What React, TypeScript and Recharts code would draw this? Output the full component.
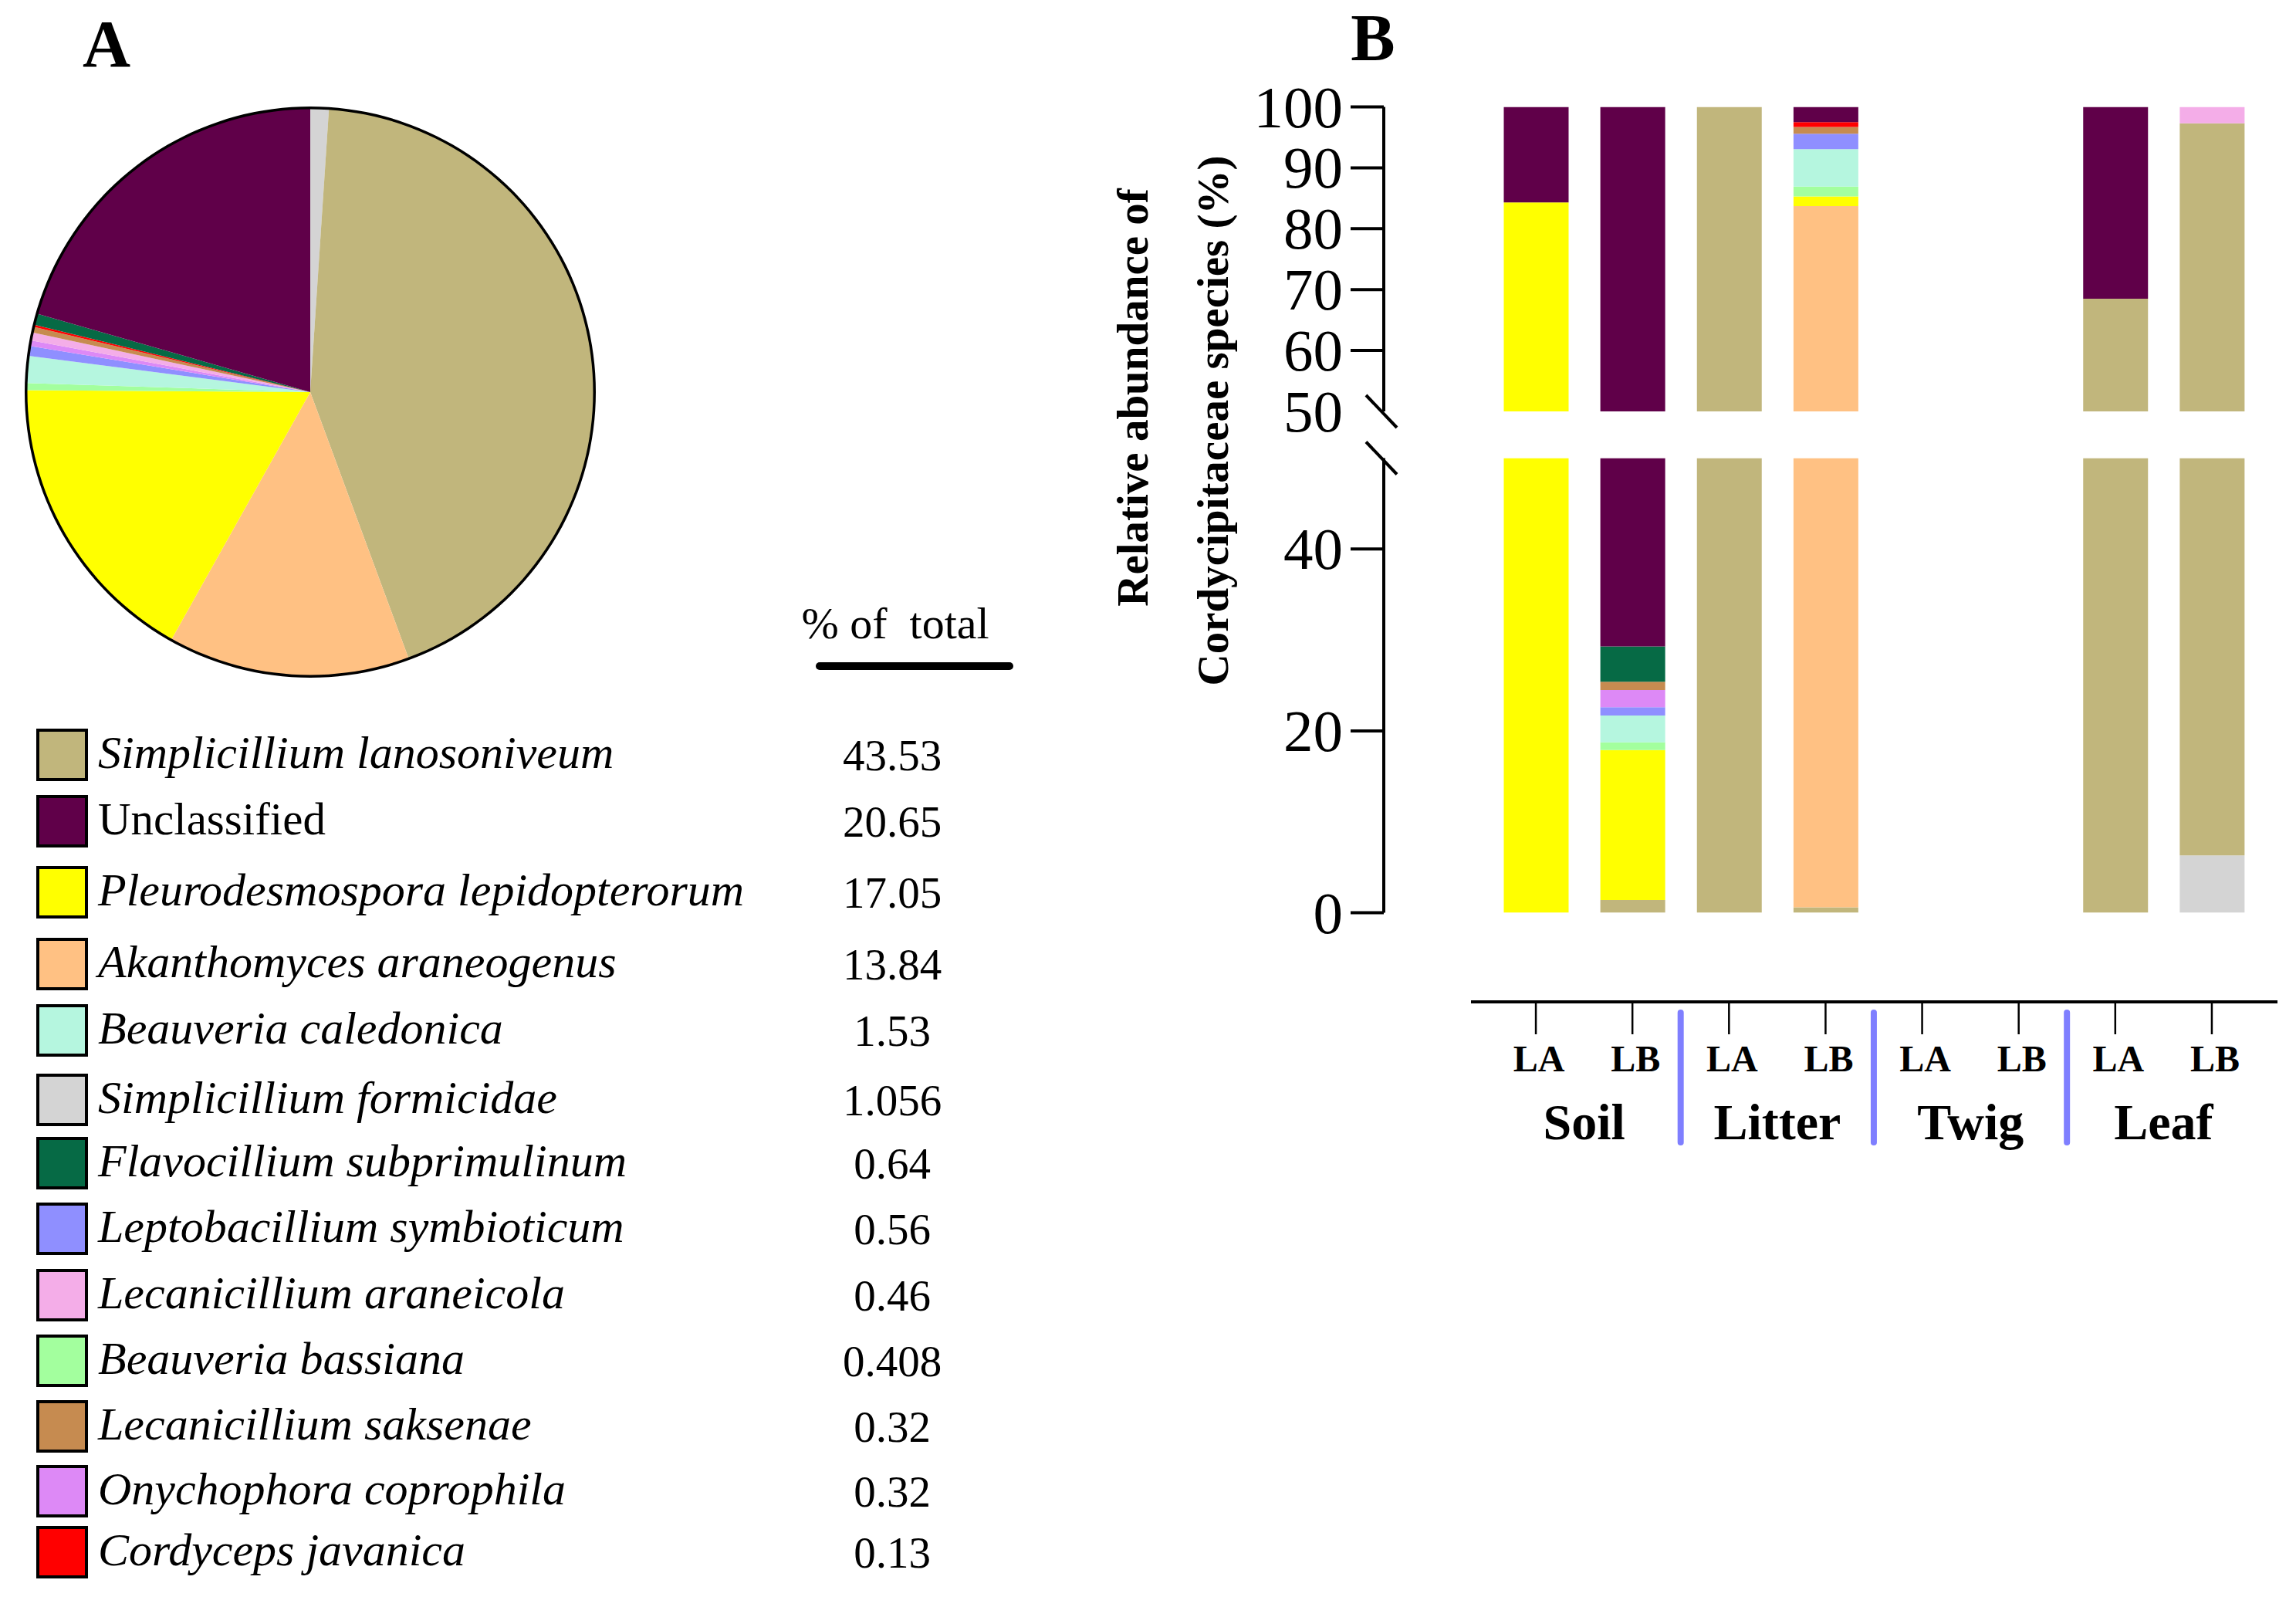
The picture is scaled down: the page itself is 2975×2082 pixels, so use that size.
import { PieChart, Pie, Cell, BarChart, Bar, XAxis, YAxis } from 'recharts';

const SERIF = '"Liberation Serif", "Times New Roman", serif';

// species, in legend order
const SPECIES = [
  'Simplicillium lanosoniveum',
  'Unclassified',
  'Pleurodesmospora lepidopterorum',
  'Akanthomyces araneogenus',
  'Beauveria caledonica',
  'Simplicillium formicidae',
  'Flavocillium subprimulinum',
  'Leptobacillium symbioticum',
  'Lecanicillium araneicola',
  'Beauveria bassiana',
  'Lecanicillium saksenae',
  'Onychophora coprophila',
  'Cordyceps javanica',
];

const PERCENT_OF_TOTAL = [43.53, 20.65, 17.05, 13.84, 1.53, 1.056, 0.64, 0.56, 0.46, 0.408, 0.32, 0.32, 0.13];

const SPECIES_COLORS = [
  '#C1B67C', // tan
  '#600049', // plum
  '#FFFF00', // yellow
  '#FFC183', // peach
  '#B5F6DF', // mint
  '#D4D4D4', // grey
  '#066A45', // dark green
  '#8F8FFF', // periwinkle
  '#F4ADE8', // pink
  '#A3FF9E', // light green
  '#C68B50', // brown
  '#DD89F6', // violet
  '#FF0000', // red
];

// slice order (clockwise from 12 o'clock) and stacking order (bottom up)
const STACK_ORDER = [5, 0, 3, 2, 9, 4, 7, 11, 8, 10, 12, 6, 1];

const SAMPLES = ['LA', 'LB', 'LA', 'LB', 'LA', 'LB', 'LA', 'LB'];
const HABITATS = ['Soil', 'Litter', 'Twig', 'Leaf'];

// relative abundance (%): Soil LA, Soil LB, Litter LA, Litter LB, Twig LA, Twig LB, Leaf LA, Leaf LB
const S_LANOSONIVEUM = [0, 1.4, 100, 0.6, 0, 0, 68.5, 91.0];
const UNCLASSIFIED = [15.7, 70.7, 0, 2.5, 0, 0, 31.5, 0];
const P_LEPIDOPTERORUM = [84.3, 16.5, 0, 1.6, 0, 0, 0, 0];
const A_ARANEOGENUS = [0, 0, 0, 83.1, 0, 0, 0, 0];
const B_CALEDONICA = [0, 2.95, 0, 6.15, 0, 0, 0, 0];
const S_FORMICIDAE = [0, 0, 0, 0, 0, 0, 0, 6.3];
const F_SUBPRIMULINUM = [0, 3.9, 0, 0, 0, 0, 0, 0];
const L_SYMBIOTICUM = [0, 0.9, 0, 2.55, 0, 0, 0, 0];
const L_ARANEICOLA = [0, 0, 0, 0, 0, 0, 0, 2.7];
const B_BASSIANA = [0, 0.85, 0, 1.6, 0, 0, 0, 0];
const L_SAKSENAE = [0, 0.9, 0, 1.1, 0, 0, 0, 0];
const O_COPROPHILA = [0, 1.9, 0, 0, 0, 0, 0, 0];
const C_JAVANICA = [0, 0, 0, 0.8, 0, 0, 0, 0];

const ABUNDANCE = [
  S_LANOSONIVEUM,
  UNCLASSIFIED,
  P_LEPIDOPTERORUM,
  A_ARANEOGENUS,
  B_CALEDONICA,
  S_FORMICIDAE,
  F_SUBPRIMULINUM,
  L_SYMBIOTICUM,
  L_ARANEICOLA,
  B_BASSIANA,
  L_SAKSENAE,
  O_COPROPHILA,
  C_JAVANICA,
];

const UPPER_TICKS = [50, 60, 70, 80, 90, 100];
const LOWER_TICKS = [0, 20, 40, 50];

// layout only
const LEGEND_ROW_Y = [978, 1064, 1156, 1249, 1335, 1425, 1507, 1592, 1678, 1763, 1848, 1932, 2011];
const TICK_SIZE = 43;
const TICK_MARGIN = 10;
const HALF_SLOT = 62.5;

const pieData = STACK_ORDER.map((k) => ({
  name: SPECIES[k],
  value: PERCENT_OF_TOTAL[k],
  color: SPECIES_COLORS[k],
}));

const barData = SAMPLES.map((sample, i) => {
  const row: Record<string, string | number> = {
    id: `${HABITATS[Math.floor(i / 2)]} ${sample}`,
  };
  ABUNDANCE.forEach((vals, k) => {
    row[`sp${k}`] = vals[i];
  });
  return row;
});

function YTick(props: any) {
  const { x, y, payload, part } = props;
  const axisX = x + TICK_MARGIN + TICK_SIZE;
  const isBreak = payload.value === 50;
  const slash = (
    <line x1={axisX - 23} y1={y - 21} x2={axisX + 17} y2={y + 21} stroke="#000" strokeWidth={4} />
  );
  if (isBreak && part === 'lower') return <g>{slash}</g>;
  return (
    <g>
      {!isBreak && (
        <line x1={axisX - TICK_SIZE} y1={y} x2={axisX} y2={y} stroke="#000" strokeWidth={4} />
      )}
      {isBreak && slash}
      <text
        x={x}
        y={y}
        textAnchor="end"
        dominantBaseline="central"
        fontFamily={SERIF}
        fontSize={77}
        fill="#000"
      >
        {payload.value}
      </text>
    </g>
  );
}

function XTick(props: any) {
  const { x, index } = props;
  const odd = index % 2 === 1;
  return (
    <g>
      <text x={x + 4} y={188} textAnchor="middle" fontFamily={SERIF} fontWeight="bold" fontSize={48} fill="#000">
        {SAMPLES[index]}
      </text>
      {odd && (
        <text x={x - HALF_SLOT} y={276} textAnchor="middle" fontFamily={SERIF} fontWeight="bold" fontSize={66} fill="#000">
          {HABITATS[(index - 1) / 2]}
        </text>
      )}
      {odd && index < SAMPLES.length - 1 && (
        <line
          x1={x + HALF_SLOT}
          x2={x + HALF_SLOT}
          y1={112}
          y2={280}
          stroke="#7F7FFF"
          strokeWidth={8}
          strokeLinecap="round"
        />
      )}
    </g>
  );
}

function StackBars() {
  return (
    <>
      {STACK_ORDER.map((k) => (
        <Bar key={k} dataKey={`sp${k}`} stackId="a" fill={SPECIES_COLORS[k]} isAnimationActive={false} />
      ))}
    </>
  );
}

export default function App() {
  return (
    <div style={{ position: 'absolute', left: 0, top: 0, width: 2975, height: 2082, background: '#fff' }}>
      {/* A: pie */}
      <div style={{ position: 'absolute', left: 0, top: 0 }}>
        <PieChart width={804} height={1016} margin={{ top: 0, right: 0, bottom: 0, left: 0 }}>
          <Pie
            data={pieData}
            dataKey="value"
            cx={402}
            cy={508}
            outerRadius={368}
            startAngle={90}
            endAngle={-270}
            stroke="none"
            isAnimationActive={false}
          >
            {pieData.map((d, i) => (
              <Cell key={i} fill={d.color} />
            ))}
          </Pie>
          <Pie
            data={[{ value: 1 }]}
            dataKey="value"
            cx={402}
            cy={508}
            innerRadius={366.5}
            outerRadius={370}
            startAngle={90}
            endAngle={-270}
            fill="#000"
            stroke="none"
            isAnimationActive={false}
          />
        </PieChart>
      </div>

      {/* B: upper segment 50-100 */}
      <div style={{ position: 'absolute', left: 1600, top: 40 }}>
        <BarChart
          width={1351}
          height={563}
          data={barData}
          barSize={84}
          margin={{ top: 98.5, right: 0, bottom: 70, left: 0 }}
        >
          <XAxis dataKey="id" hide padding={{ left: 134.5, right: 22.5 }} />
          <YAxis
            width={193}
            domain={[50, 100]}
            ticks={UPPER_TICKS}
            allowDataOverflow
            axisLine={{ stroke: '#000', strokeWidth: 4 }}
            tickLine={false}
            tickSize={TICK_SIZE}
            tickMargin={TICK_MARGIN}
            interval={0}
            tick={(p: any) => <YTick {...p} part="upper" />}
          />
          {StackBars()}
        </BarChart>
      </div>

      {/* B: lower segment 0-50 */}
      <div style={{ position: 'absolute', left: 1600, top: 553 }}>
        <BarChart
          width={1351}
          height={699.6}
          data={barData}
          barSize={84}
          margin={{ top: 40.5, right: 0, bottom: 70, left: 0 }}
        >
          <XAxis dataKey="id" hide padding={{ left: 134.5, right: 22.5 }} />
          <YAxis
            width={193}
            domain={[0, 50]}
            ticks={LOWER_TICKS}
            allowDataOverflow
            axisLine={{ stroke: '#000', strokeWidth: 4 }}
            tickLine={false}
            tickSize={TICK_SIZE}
            tickMargin={TICK_MARGIN}
            interval={0}
            tick={(p: any) => <YTick {...p} part="lower" />}
          />
          {StackBars()}
        </BarChart>
      </div>

      {/* B: sample / habitat axis */}
      <div style={{ position: 'absolute', left: 1906, top: 1200 }}>
        <BarChart width={1045} height={320} data={barData} margin={{ top: 0, right: 0, bottom: 0, left: 0 }}>
          <XAxis
            dataKey="id"
            height={222}
            padding={{ left: 21.5, right: 22.5 }}
            axisLine={{ stroke: '#000', strokeWidth: 4 }}
            tickLine={{ stroke: '#000', strokeWidth: 2.5 }}
            tickSize={42}
            interval={0}
            tick={(p: any) => <XTick {...p} />}
          />
          <YAxis hide domain={[0, 100]} />
        </BarChart>
      </div>

      {/* texts and legend */}
      <svg
        width={2975}
        height={2082}
        style={{ position: 'absolute', left: 0, top: 0, pointerEvents: 'none' }}
        fontFamily={SERIF}
      >
        <text x={138} y={86} textAnchor="middle" fontSize={86} fontWeight="bold">
          A
        </text>
        <text x={1779} y={78} textAnchor="middle" fontSize={86} fontWeight="bold">
          B
        </text>

        <text
          transform="translate(1467,515) rotate(-90)"
          textAnchor="middle"
          dominantBaseline="central"
          fontSize={57}
          fontWeight="bold"
        >
          Relative abundance of
        </text>
        <text
          transform="translate(1571,545) rotate(-90)"
          textAnchor="middle"
          dominantBaseline="central"
          fontSize={57}
          fontWeight="bold"
        >
          Cordycipitaceae species (%)
        </text>

        <text x={1160} y={827} textAnchor="middle" fontSize={58} style={{ whiteSpace: 'pre' }}>
          {'% of  total'}
        </text>
        <line x1={1062} y1={863} x2={1308} y2={863} stroke="#000" strokeWidth={10} strokeLinecap="round" />

        {SPECIES.map((name, i) => {
          const cy = LEGEND_ROW_Y[i];
          const italic = name !== 'Unclassified';
          return (
            <g key={name}>
              <rect x={49} y={cy - 32} width={63} height={64} fill={SPECIES_COLORS[i]} stroke="#000" strokeWidth={4} />
              <text x={127} y={cy + 17} fontSize={italic ? 60 : 59} fontStyle={italic ? 'italic' : 'normal'}>
                {name}
              </text>
              <text x={1156} y={cy + 20} fontSize={57} textAnchor="middle">
                {String(PERCENT_OF_TOTAL[i])}
              </text>
            </g>
          );
        })}
      </svg>
    </div>
  );
}
